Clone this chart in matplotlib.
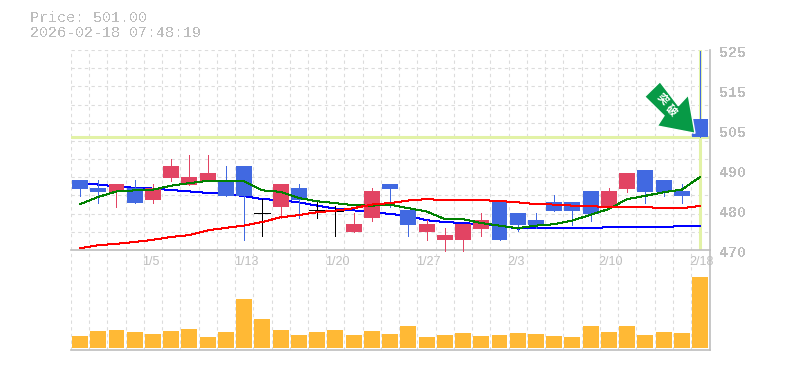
import matplotlib
matplotlib.use('Agg')
import matplotlib.pyplot as plt
from matplotlib.patches import Polygon

W, H = 785, 370

dates = {4: '1/5', 9: '1/13', 14: '1/20', 19: '1/27', 24: '2/3', 29: '2/10', 34: '2/18'}

opens = [489.3, 487.1, 486.0, 487.1, 483.8, 489.9, 488.0, 489.1, 489.3, 493.2, 480.2, 481.9,
         487.1, 481.0, 480.8, 475.0, 478.9, 488.2, 481.1, 475.0, 472.8, 472.8, 475.9, 483.3,
         480.3, 478.3, 483.3, 483.3, 486.3, 481.9, 486.9, 492.1, 489.3, 486.3, 505.9]
closes = [486.9, 486.0, 488.2, 483.0, 487.1, 493.2, 490.2, 491.3, 484.9, 484.9, 480.2, 488.2,
          483.8, 481.0, 480.8, 477.2, 486.3, 486.9, 477.0, 477.2, 474.2, 477.2, 478.3, 472.8,
          477.0, 477.0, 480.8, 480.8, 480.0, 486.3, 491.3, 486.0, 486.0, 484.9, 501.0]
highs = [489.3, 489.3, 488.2, 489.3, 488.2, 495.1, 496.2, 496.2, 493.2, 493.2, 484.0, 488.2,
         488.2, 483.3, 482.2, 480.3, 487.1, 488.2, 481.1, 478.3, 476.1, 477.2, 480.3, 483.3,
         480.3, 480.3, 485.2, 483.3, 486.3, 487.1, 491.3, 492.1, 489.3, 488.2, 524.6]
lows = [484.9, 483.0, 481.9, 483.0, 483.0, 489.1, 488.0, 489.1, 484.9, 472.8, 473.9, 478.9,
        478.9, 478.9, 473.9, 475.0, 478.1, 481.9, 473.9, 472.8, 469.8, 469.8, 473.9, 472.8,
        475.3, 476.1, 480.8, 477.0, 478.1, 481.9, 486.0, 483.0, 484.9, 483.0, 501.0]

ma_blue = [488.4, 488.0, 487.5, 487.1, 486.9, 486.5, 486.1, 485.7, 485.5, 484.8, 484.0, 483.7,
           483.1, 482.2, 481.4, 480.9, 480.4, 479.9, 479.4, 478.2, 477.7, 477.4, 477.1, 476.7,
           475.9, 476.0, 476.0, 476.0, 476.0, 476.3, 476.3, 476.3, 476.3, 476.6, 476.6]
ma_green = [482.6, 484.6, 486.1, 486.4, 486.6, 487.7, 488.4, 489.0, 489.1, 488.9, 486.4, 486.0,
            484.3, 483.4, 482.9, 482.3, 482.2, 482.5, 481.5, 480.6, 478.5, 478.5, 477.4, 476.7,
            476.0, 476.7, 477.1, 478.1, 479.7, 481.3, 484.0, 484.9, 485.9, 486.6, 490.1]
ma_red = [470.5, 471.3, 471.7, 472.2, 472.8, 473.6, 474.1, 475.4, 476.1, 476.7, 477.7, 479.0,
          479.6, 480.4, 480.8, 481.5, 482.5, 482.9, 483.6, 484.0, 483.7, 483.7, 483.7, 483.5,
          483.1, 482.6, 482.5, 482.2, 482.1, 481.7, 481.8, 481.8, 481.5, 481.5, 482.1]
volume = [12, 17, 18, 16, 14, 17, 19, 11, 16, 49, 29, 18, 13, 16, 18, 13, 17, 14,
          22, 11, 13, 15, 12, 13, 15, 14, 12, 11, 22, 16, 22, 13, 16, 15, 71]

last_price = 501.0
price_grid = list(range(470, 530, 5))
# the site spaces these evenly, they do not sit on the scale
price_labels = ['470', '480', '490', '505', '515', '525']
price_label_y = [253, 213, 173, 133, 93, 53]

UP = '#E24463'
DOWN = '#4169E1'
GRID = '#DCDCDC'
AXIS = '#BEBEBE'
TEXT = '#BDBDBD'
LIME = '#E2F2A6'
MONO = 'Liberation Mono'
CJK = ['Noto Sans CJK JP', 'DejaVu Sans']
THIN = 0.72


def make_axes(fig, left, top, right, bottom):
    return fig.add_axes([left / W, 1 - bottom / H, (right - left) / W, (bottom - top) / H])


fig = plt.figure(figsize=(W / 100, H / 100), dpi=100)
ax = make_axes(fig, 70.9, 50, 710, 250)
vol = make_axes(fig, 70.9, 250, 710, 350)

n = len(opens)
for a in (ax, vol):
    a.patch.set_visible(False)
    a.set_xlim(-0.5, n - 0.46)
    a.set_xticks([i - 0.5 for i in range(n)])
    a.set_xticklabels([])
    a.tick_params(length=0)
    a.grid(axis='x', color=GRID, linestyle=(0, (3, 3)), linewidth=0.8)
    a.set_axisbelow(True)
    for s in a.spines.values():
        s.set_visible(False)
    a.spines['bottom'].set_visible(True)
    a.spines['right'].set_visible(True)
    a.spines['bottom'].set_color(AXIS)
    a.spines['right'].set_color(AXIS)
    a.spines['bottom'].set_linewidth(1.2)
    a.spines['right'].set_linewidth(1.2)

ax.set_ylim(470, 525)
ax.set_yticks(price_grid)
ax.set_yticklabels([])
ax.grid(axis='y', color=GRID, linestyle=(0, (3, 3)), linewidth=0.8)

vol.set_ylim(-1.9, 98)
vol.set_yticks([])

xs = list(range(n))
ax.axhline(last_price, color=LIME, linewidth=2.2, zorder=2)
ax.axvline(n - 1, color=LIME, linewidth=2.2, ymin=0.005, zorder=2)

for i in xs:
    if opens[i] == closes[i]:
        c = 'black'
    elif closes[i] > opens[i]:
        c = UP
    else:
        c = DOWN
    ax.plot([i, i], [lows[i], highs[i]], color=c, linewidth=THIN, zorder=3,
            solid_capstyle='butt', antialiased=False, clip_on=False)
    if c == 'black':
        ax.plot([i - 0.44, i + 0.44], [opens[i], opens[i]], color=c, linewidth=THIN, zorder=3, antialiased=False)
    else:
        ax.bar(i, abs(closes[i] - opens[i]), bottom=min(opens[i], closes[i]), width=0.875, color=c, zorder=4)

ax.plot(xs, ma_blue, color='#0000FF', linewidth=THIN, zorder=2.5, antialiased=False)
ax.plot(xs, ma_green, color='#008000', linewidth=THIN, zorder=5, antialiased=False)
ax.plot(xs, ma_red, color='#FF0000', linewidth=THIN, zorder=5, antialiased=False)

vol.bar(xs, volume, width=0.875, color='#FFB935', zorder=3)

# signal arrow, placed in pixels
arrow_px = [(660, 81.7), (678.3, 105.7), (688.3, 95), (695, 133.3), (657.3, 126), (664, 115.7), (644.7, 96.7)]
arrow = Polygon([(x / W, 1 - y / H) for x, y in arrow_px], transform=fig.transFigure,
                facecolor='#079A46', edgecolor='white', linewidth=1.0, zorder=10, clip_on=False)
fig.add_artist(arrow)
fig.text(662.7 / W, 1 - 99 / H, '突', color='white', fontsize=8, rotation=-45, ha='center', va='center',
         family=CJK, fontweight='bold', zorder=11)
fig.text(672.3 / W, 1 - 109.7 / H, '破', color='white', fontsize=8, rotation=-45, ha='center', va='center',
         family=CJK, fontweight='bold', zorder=11)

t1 = fig.text(30 / W, 1 - 18 / H, 'Price: 501.00', color=TEXT, fontsize=10.8, family=MONO, va='center')
t2 = fig.text(30 / W, 1 - 33 / H, '2026-02-18 07:48:19', color=TEXT, fontsize=10.8, family=MONO, va='center')
t1.set_antialiased(False)
t2.set_antialiased(False)

for label, y in zip(price_labels, price_label_y):
    t = fig.text(719.5 / W, 1 - y / H, label, color=TEXT, fontsize=10.8, family=MONO, fontweight='bold', va='center')
    t.set_antialiased(False)

for i, label in dates.items():
    ax.annotate(label, (i, 0), xycoords=('data', 'axes fraction'), xytext=(-10.5, -12), textcoords='offset pixels',
                color=TEXT, fontsize=9, family='Liberation Sans', ha='left', va='center', annotation_clip=False)

fig.savefig('out.png', dpi=100)
